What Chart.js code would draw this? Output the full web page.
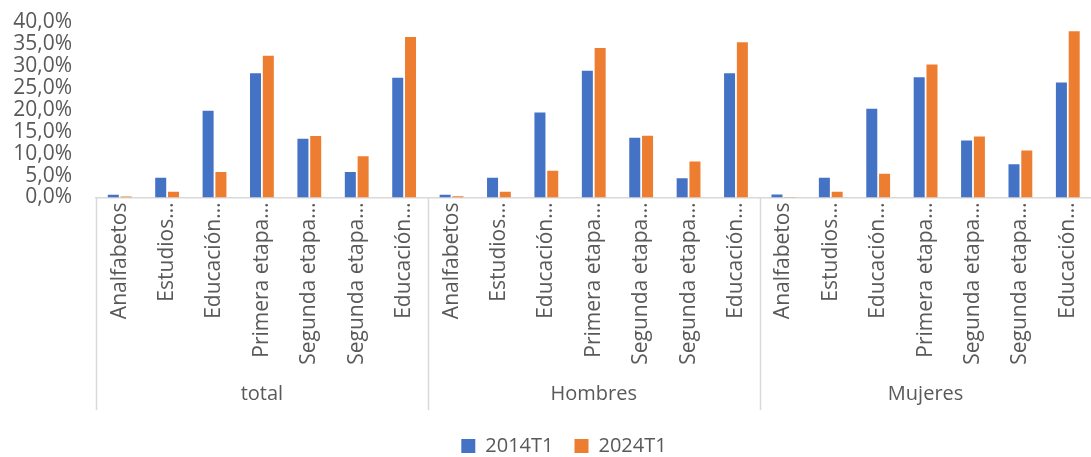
<!DOCTYPE html>
<html>
<head>
<meta charset="utf-8">
<script src="https://cdn.jsdelivr.net/npm/chart.js@4.4.1/dist/chart.umd.min.js"></script>
<style>
  html, body { margin: 0; padding: 0; background: #ffffff; overflow: hidden; }
  #wrap { width: 1098px; height: 457px; }
</style>
</head>
<body>
<div id="wrap"><canvas id="c" width="1098" height="457"></canvas></div>
<script>
// ---- data ----
const groups = ['total', 'Hombres', 'Mujeres'];
const levels = ['Analfabetos', 'Estudios…', 'Educación…', 'Primera etapa…', 'Segunda etapa…', 'Segunda etapa…', 'Educación…'];
const seriesNames = ['2014T1', '2024T1'];
const values2014 = [0.6, 4.5, 19.8, 28.3, 13.4, 5.8, 27.3,
                    0.6, 4.5, 19.4, 28.9, 13.6, 4.4, 28.3,
                    0.7, 4.5, 20.2, 27.4, 13.0, 7.6, 26.2];
const values2024 = [0.2, 1.3, 5.8, 32.3, 14.0, 9.4, 36.6,
                    0.3, 1.3, 6.1, 34.1, 14.1, 8.2, 35.4,
                    0.1, 1.3, 5.4, 30.3, 13.9, 10.7, 37.9];
const yTicks = [0, 5, 10, 15, 20, 25, 30, 35, 40];

// ---- build labels ----
const labels = [];
groups.forEach(() => levels.forEach(l => labels.push(l)));

const FONT = '"Open Sans", "DejaVu Sans", sans-serif';
const TXT = '#595959';
const LINE = '#d9d9d9';

const groupPlugin = {
  id: 'groupLabels',
  afterLayout(chart) {
    // nudge the legend to the right, as in the original
    if (chart.legend) { chart.legend.left += 15; chart.legend.right += 15; }
  },
  afterDraw(chart) {
    const x = chart.scales.x;
    const ctx = chart.ctx;
    const n = levels.length;
    const top = chart.chartArea.bottom;
    const sepBottom = 410;
    ctx.save();
    ctx.strokeStyle = LINE;
    ctx.lineWidth = 1.5;
    for (let g = 0; g <= groups.length; g++) {
      const px = Math.round(x.getPixelForValue(g * n - 0.5)) + 0.5;
      ctx.beginPath();
      ctx.moveTo(px, top);
      ctx.lineTo(px, sepBottom);
      ctx.stroke();
    }
    ctx.fillStyle = TXT;
    ctx.font = '20px ' + FONT;
    ctx.textAlign = 'center';
    ctx.textBaseline = 'middle';
    groups.forEach((name, g) => {
      const l = x.getPixelForValue(g * n - 0.5);
      const r = x.getPixelForValue((g + 1) * n - 0.5);
      ctx.fillText(name, (l + r) / 2, 394);
    });
    ctx.restore();
  }
};

new Chart(document.getElementById('c'), {
  type: 'bar',
  data: {
    labels: labels,
    datasets: [
      { label: seriesNames[0], data: values2014, backgroundColor: '#4472C4',
        categoryPercentage: 0.54, barPercentage: 0.86 },
      { label: seriesNames[1], data: values2024, backgroundColor: '#ED7D31',
        categoryPercentage: 0.54, barPercentage: 0.86 }
    ]
  },
  options: {
    responsive: false,
    animation: false,
    devicePixelRatio: 1,
    layout: { padding: { top: 22, left: 0, right: 0, bottom: -9 } },
    plugins: {
      tooltip: { enabled: false },
      legend: {
        position: 'bottom',
        labels: {
          boxWidth: 14, boxHeight: 14, padding: 21,
          color: TXT, font: { family: FONT, size: 20 }
        }
      }
    },
    scales: {
      x: {
        type: 'category',
        offset: true,
        grid: { display: true, drawOnChartArea: false, drawTicks: false },
        border: { display: true, color: LINE, width: 1.5 },
        ticks: {
          autoSkip: false, maxRotation: 90, minRotation: 90, padding: 5,
          color: TXT, font: { family: FONT, size: 21 }
        },
        afterFit(scale) { scale.height = 217.5; }
      },
      y: {
        min: 0, max: 40,
        afterBuildTicks(scale) { scale.ticks = yTicks.map(v => ({ value: v })); },
        grid: { display: false, drawTicks: false },
        border: { display: false },
        ticks: {
          autoSkip: false, padding: 24, color: TXT,
          font: { family: FONT, size: 21 },
          callback: v => v.toFixed(1).replace('.', ',') + '%'
        },
        afterFit(scale) { scale.width = 96; scale.paddingTop = 0; scale.paddingBottom = 0; }
      }
    }
  },
  plugins: [groupPlugin]
});
</script>
</body>
</html>
